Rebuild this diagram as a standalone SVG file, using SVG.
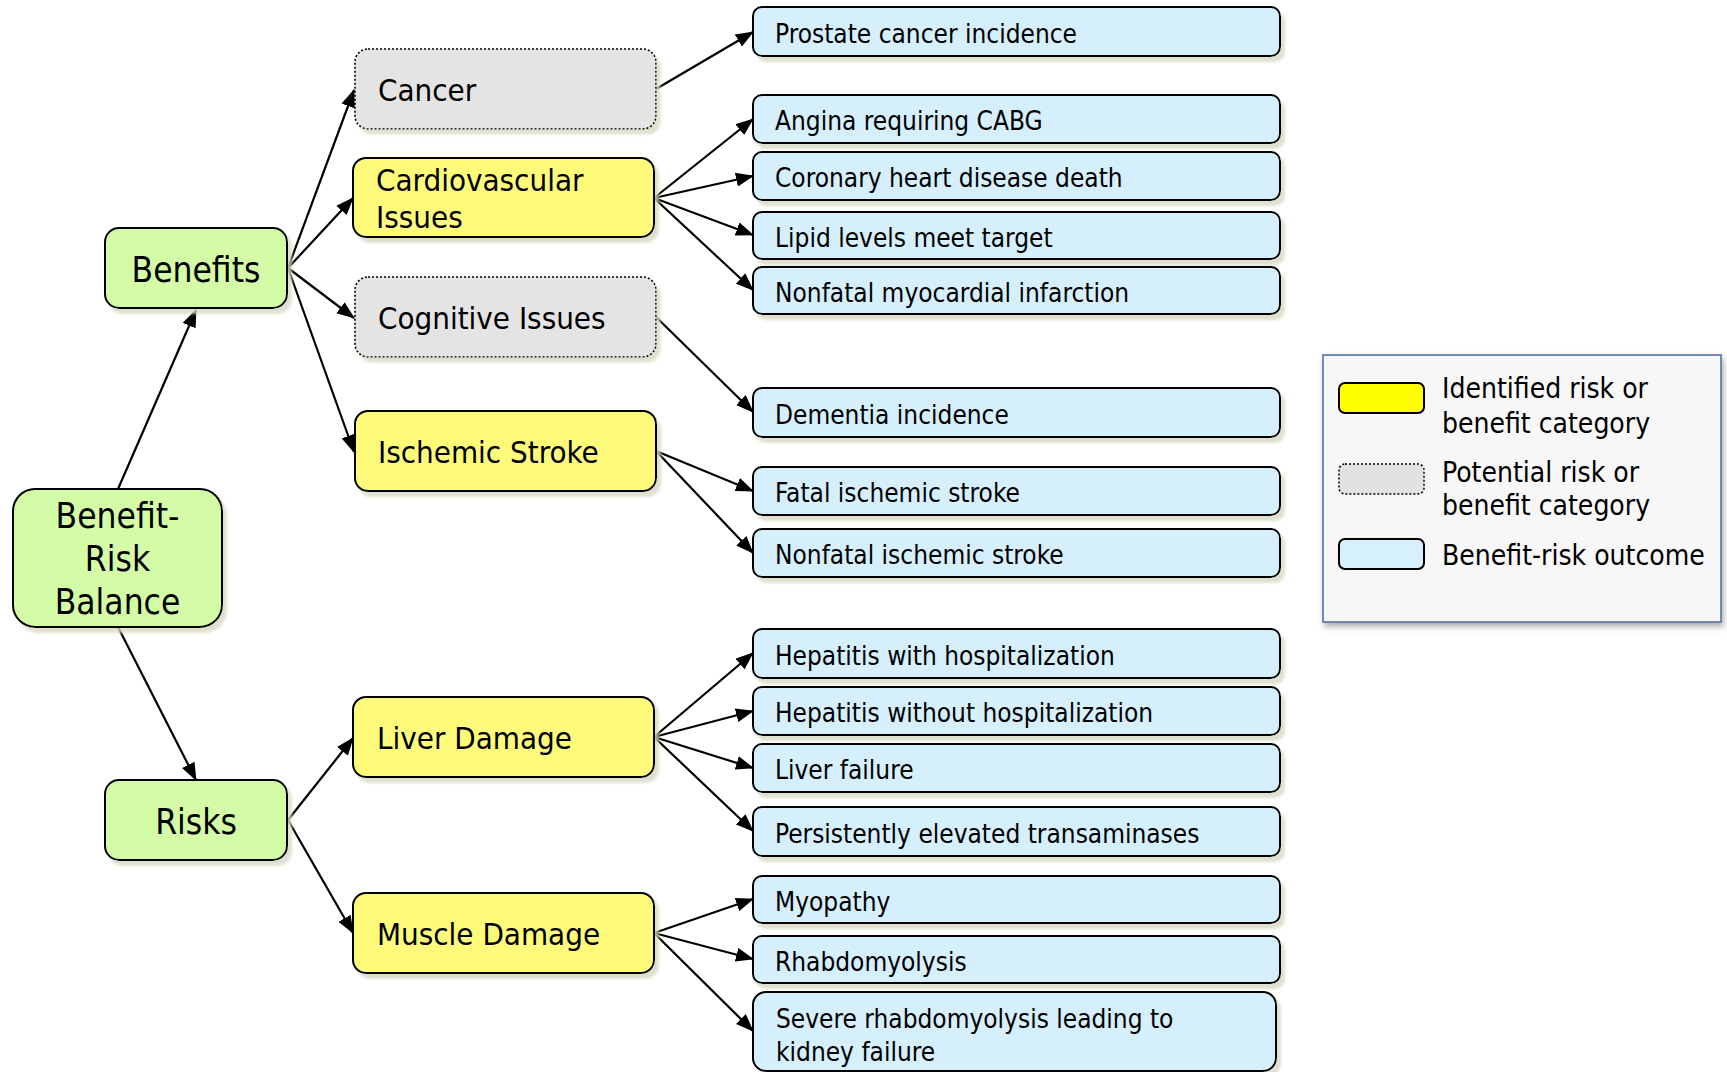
<svg xmlns="http://www.w3.org/2000/svg" width="1727" height="1072" viewBox="0 0 1727 1072">
<defs>
<filter id="sh" x="-10%" y="-10%" width="130%" height="140%">
<feDropShadow dx="4" dy="5" stdDeviation="1.5" flood-color="#d8d8c4" flood-opacity="0.8"/>
</filter>
<filter id="lsh" x="-10%" y="-10%" width="130%" height="130%">
<feDropShadow dx="2" dy="4" stdDeviation="3" flood-color="#777" flood-opacity="0.6"/>
</filter>
<marker id="ah" markerUnits="userSpaceOnUse" markerWidth="18" markerHeight="14" refX="17" refY="7" orient="auto">
<path d="M0,0 L18,7 L0,14 z" fill="#000"/>
</marker>
</defs>
<style>
text { font-family: "DejaVu Sans Condensed", "DejaVu Sans", sans-serif; fill: #000; }
.root rect { fill: #d4fba6; stroke: #000; stroke-width: 2; filter: url(#sh); }
.ident rect { fill: #fffb7a; stroke: #000; stroke-width: 2; filter: url(#sh); }
.pot rect { fill: #e4e4e4; stroke: #000; stroke-width: 1.6; stroke-dasharray: 2 2; filter: url(#sh); }
.out rect { fill: #d5effd; stroke: #000; stroke-width: 2; filter: url(#sh); }
.big { font-size: 35px; }
.cat { font-size: 31px; }
.otx { font-size: 26px; }
.leg { font-size: 28px; }
#connectors line { stroke: #000; stroke-width: 2.2; marker-end: url(#ah); }
</style>
<rect width="1727" height="1072" fill="#fff"/>

<g id="connectors">
<line x1="118" y1="489" x2="196" y2="310"/>
<line x1="118" y1="627" x2="196" y2="780"/>
<line x1="288" y1="268" x2="354" y2="90"/>
<line x1="288" y1="268" x2="353" y2="198"/>
<line x1="288" y1="268" x2="354" y2="318"/>
<line x1="288" y1="268" x2="354" y2="452"/>
<line x1="288" y1="820" x2="353" y2="738"/>
<line x1="288" y1="820" x2="353" y2="933"/>
<line x1="656" y1="89" x2="753" y2="32"/>
<line x1="654" y1="198" x2="753" y2="119"/>
<line x1="654" y1="198" x2="753" y2="176"/>
<line x1="654" y1="198" x2="753" y2="235"/>
<line x1="654" y1="198" x2="753" y2="290"/>
<line x1="656" y1="317" x2="753" y2="412"/>
<line x1="656" y1="451" x2="753" y2="491"/>
<line x1="656" y1="451" x2="753" y2="553"/>
<line x1="654" y1="737" x2="753" y2="653"/>
<line x1="654" y1="737" x2="753" y2="711"/>
<line x1="654" y1="737" x2="753" y2="768"/>
<line x1="654" y1="737" x2="753" y2="831"/>
<line x1="654" y1="933" x2="753" y2="899"/>
<line x1="654" y1="933" x2="753" y2="959"/>
<line x1="654" y1="933" x2="753" y2="1031"/>
</g>

<g id="n-balance" class="root"><rect x="13" y="489" width="209" height="138" rx="22"/>
<text class="big" x="117.5" y="528" text-anchor="middle">Benefit-</text>
<text class="big" x="117.5" y="571" text-anchor="middle">Risk</text>
<text class="big" x="117.5" y="614" text-anchor="middle">Balance</text></g>
<g id="n-benefits" class="root"><rect x="105" y="228" width="182" height="80" rx="14"/>
<text class="big" x="196" y="282" text-anchor="middle">Benefits</text></g>
<g id="n-risks" class="root"><rect x="105" y="780" width="182" height="80" rx="14"/>
<text class="big" x="196" y="834" text-anchor="middle">Risks</text></g>

<g id="n-cancer" class="pot"><rect x="355" y="49" width="301" height="80" rx="13"/>
<text class="cat" x="378" y="101">Cancer</text></g>
<g id="n-cardio" class="ident"><rect x="353" y="158" width="301" height="79" rx="13"/>
<text class="cat" x="376" y="191">Cardiovascular</text>
<text class="cat" x="376" y="228">Issues</text></g>
<g id="n-cognitive" class="pot"><rect x="355" y="277" width="301" height="80" rx="13"/>
<text class="cat" x="378" y="329">Cognitive Issues</text></g>
<g id="n-ischemic" class="ident"><rect x="355" y="411" width="301" height="80" rx="13"/>
<text class="cat" x="378" y="463">Ischemic Stroke</text></g>
<g id="n-liver" class="ident"><rect x="353" y="697" width="301" height="80" rx="13"/>
<text class="cat" x="377" y="749">Liver Damage</text></g>
<g id="n-muscle" class="ident"><rect x="353" y="893" width="301" height="80" rx="13"/>
<text class="cat" x="377" y="945">Muscle Damage</text></g>

<g id="n-prostate" class="out"><rect x="753" y="7" width="527" height="49" rx="9"/>
<text class="otx" x="775" y="43">Prostate cancer incidence</text></g>
<g id="n-angina" class="out"><rect x="753" y="95" width="527" height="48" rx="9"/>
<text class="otx" x="775" y="130">Angina requiring CABG</text></g>
<g id="n-coronary" class="out"><rect x="753" y="152" width="527" height="48" rx="9"/>
<text class="otx" x="775" y="187">Coronary heart disease death</text></g>
<g id="n-lipid" class="out"><rect x="753" y="212" width="527" height="47" rx="9"/>
<text class="otx" x="775" y="247">Lipid levels meet target</text></g>
<g id="n-nmi" class="out"><rect x="753" y="267" width="527" height="47" rx="9"/>
<text class="otx" x="775" y="302">Nonfatal myocardial infarction</text></g>
<g id="n-dementia" class="out"><rect x="753" y="388" width="527" height="49" rx="9"/>
<text class="otx" x="775" y="424">Dementia incidence</text></g>
<g id="n-fatal" class="out"><rect x="753" y="467" width="527" height="48" rx="9"/>
<text class="otx" x="775" y="502">Fatal ischemic stroke</text></g>
<g id="n-nonfatal" class="out"><rect x="753" y="529" width="527" height="48" rx="9"/>
<text class="otx" x="775" y="564">Nonfatal ischemic stroke</text></g>
<g id="n-hepw" class="out"><rect x="753" y="629" width="527" height="49" rx="9"/>
<text class="otx" x="775" y="665">Hepatitis with hospitalization</text></g>
<g id="n-hepwo" class="out"><rect x="753" y="687" width="527" height="48" rx="9"/>
<text class="otx" x="775" y="722">Hepatitis without hospitalization</text></g>
<g id="n-lf" class="out"><rect x="753" y="744" width="527" height="48" rx="9"/>
<text class="otx" x="775" y="779">Liver failure</text></g>
<g id="n-pers" class="out"><rect x="753" y="807" width="527" height="49" rx="9"/>
<text class="otx" x="775" y="843">Persistently elevated transaminases</text></g>
<g id="n-myo" class="out"><rect x="753" y="876" width="527" height="47" rx="9"/>
<text class="otx" x="775" y="911">Myopathy</text></g>
<g id="n-rhabdo" class="out"><rect x="753" y="936" width="527" height="47" rx="9"/>
<text class="otx" x="775" y="971">Rhabdomyolysis</text></g>
<g id="n-severe" class="out"><rect x="753" y="992" width="523" height="79" rx="13"/>
<text class="otx" x="776" y="1028">Severe rhabdomyolysis leading to</text>
<text class="otx" x="776" y="1061">kidney failure</text></g>

<g id="legend">
<rect x="1323" y="355" width="398" height="267" fill="#f7f7f7" stroke="#4a6aa6" stroke-width="1.5" filter="url(#lsh)"/>
<rect x="1339" y="383" width="85" height="30" rx="6" fill="#ffff00" stroke="#000" stroke-width="2"/>
<rect x="1339" y="464" width="85" height="30" rx="6" fill="#e2e2e2" stroke="#000" stroke-width="1.5" stroke-dasharray="2 2"/>
<rect x="1339" y="539" width="85" height="30" rx="6" fill="#d7f0fd" stroke="#000" stroke-width="2"/>
<text class="leg" x="1442" y="398">Identified risk or</text>
<text class="leg" x="1442" y="433">benefit category</text>
<text class="leg" x="1442" y="482">Potential risk or</text>
<text class="leg" x="1442" y="515">benefit category</text>
<text class="leg" x="1442" y="565">Benefit-risk outcome</text>
</g>
</svg>
